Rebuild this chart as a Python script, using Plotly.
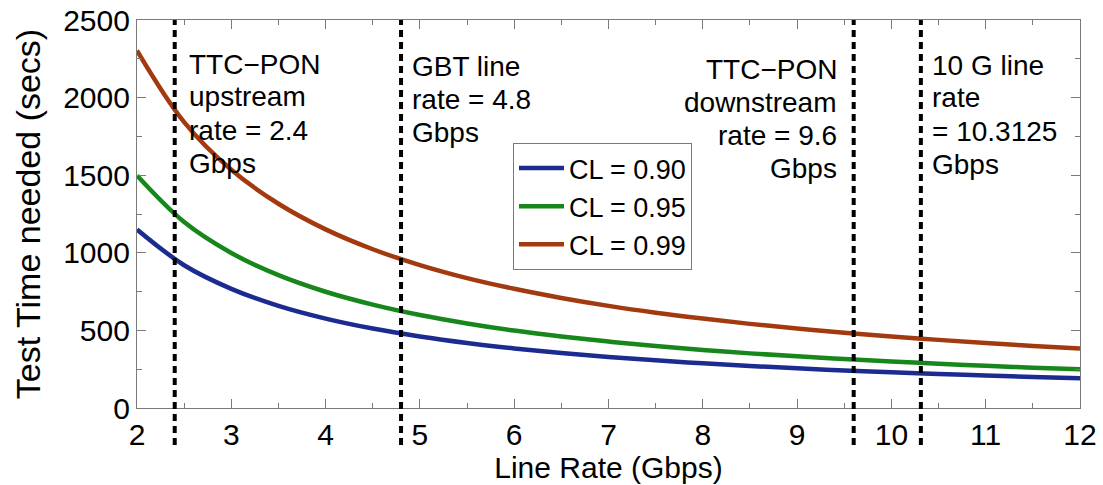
import plotly.graph_objects as go

# ---- data ----
line_rate = [2, 2.5, 3, 3.5, 4, 4.5, 5, 5.5, 6, 6.5, 7, 7.5, 8, 8.5, 9, 9.5, 10, 10.5, 11, 11.5, 12]
cl_090 = [1150, 920, 768, 658, 576, 512, 461, 419, 384, 354, 329, 307, 288, 271, 256, 242, 230, 219, 209, 200, 192]
cl_095 = [1498, 1198, 999, 856, 749, 666, 599, 545, 499, 461, 428, 399, 374, 352, 333, 315, 300, 285, 272, 260, 250]
cl_099 = [2303, 1842, 1535, 1316, 1151, 1023, 921, 837, 768, 709, 658, 614, 576, 542, 512, 485, 461, 439, 419, 400, 384]
series_names = ["CL = 0.90", "CL = 0.95", "CL = 0.99"]
series_colors = ["#1c2b90", "#17871b", "#a3390f"]

marker_rates = [2.4, 4.8, 9.6, 10.3125]
marker_labels = [
    ["TTC\u2212PON", "upstream", "rate = 2.4", "Gbps"],
    ["GBT line", "rate = 4.8", "Gbps"],
    ["TTC\u2212PON", "downstream", "rate = 9.6", "Gbps"],
    ["10 G line", "rate", "= 10.3125", "Gbps"],
]

x_ticks = list(range(2, 13))          # major ticks 2..12
y_ticks = [0, 500, 1000, 1500, 2000, 2500]
x_minor_step = 0.5
y_minor_step = 250

# ---- layout constants (pixels) ----
W, H = 1103, 485
ML, MR, MT, MB = 137, 23, 20, 77
PLOT_H = H - MT - MB
FONT = "Arial, Liberation Sans, Helvetica, sans-serif"
AXIS_COLOR = "#7a7a7a"

fig = go.Figure()
for vals, name, col in zip([cl_090, cl_095, cl_099], series_names, series_colors):
    fig.add_trace(go.Scatter(x=line_rate, y=vals, name=name, mode="lines",
                             line=dict(color=col, width=4.5, shape="spline")))

# dashed vertical markers (extend below the axis like the original)
for r in marker_rates:
    fig.add_shape(type="line", xref="x", yref="paper", x0=r, x1=r,
                  y0=-37 / PLOT_H, y1=1,
                  line=dict(color="black", width=4, dash="7px,5px"), layer="above")

# annotation text, one line at a time
ann_cfg = [  # (align side, xshift, first baseline px)
    ("left", 12, 74),
    ("left", 9, 76),
    ("right", -15, 79),
    ("left", 9, 75),
]
LINE_GAP = 33
for r, lines, (side, xs, b0) in zip(marker_rates, marker_labels, ann_cfg):
    for i, t in enumerate(lines):
        center_px = b0 + i * LINE_GAP - 10
        fig.add_annotation(x=r, xref="x", y=(H - MB - center_px) / PLOT_H, yref="paper",
                           text=t, showarrow=False, xanchor=side, yanchor="middle",
                           xshift=xs, align=side,
                           font=dict(family=FONT, size=28, color="black"))

axis_common = dict(
    showline=True, linecolor=AXIS_COLOR, linewidth=1.2, mirror="ticks",
    ticks="inside", ticklen=9, tickcolor=AXIS_COLOR, tickwidth=1.2,
    showgrid=False, zeroline=False,
    tickfont=dict(family=FONT, size=30, color="black"),
)
minor_common = dict(
    showline=True, linecolor=AXIS_COLOR, linewidth=1.2, mirror="ticks",
    ticks="inside", ticklen=5, tickcolor=AXIS_COLOR, tickwidth=1.2,
    showgrid=False, zeroline=False, showticklabels=False,
)

# empty trace so the minor-tick overlay axes are drawn
fig.add_trace(go.Scatter(x=[], y=[], xaxis="x2", yaxis="y2", showlegend=False, hoverinfo="skip"))

fig.update_layout(
    template="none",
    width=W, height=H,
    margin=dict(l=ML, r=MR, t=MT, b=MB, autoexpand=False),
    paper_bgcolor="white", plot_bgcolor="white",
    showlegend=True,
    xaxis=dict(range=[x_ticks[0], x_ticks[-1]], tickmode="linear",
               tick0=x_ticks[0], dtick=x_ticks[1] - x_ticks[0],
               title=dict(text="Line Rate (Gbps)", font=dict(family=FONT, size=30, color="black"), standoff=2),
               **axis_common),
    yaxis=dict(range=[y_ticks[0], y_ticks[-1]], tickmode="linear",
               tick0=y_ticks[0], dtick=y_ticks[1] - y_ticks[0],
               title=dict(text="Test Time needed (secs)", font=dict(family=FONT, size=34, color="black"), standoff=12),
               **axis_common),
    xaxis2=dict(range=[x_ticks[0], x_ticks[-1]], overlaying="x", anchor="y2", side="bottom",
                tickmode="linear", tick0=x_ticks[0], dtick=x_minor_step, **minor_common),
    yaxis2=dict(range=[y_ticks[0], y_ticks[-1]], overlaying="y", anchor="x2", side="left",
                tickmode="linear", tick0=y_ticks[0], dtick=y_minor_step, **minor_common),
    legend=dict(x=(513 - ML) / (W - ML - MR), y=(H - MB - 143) / PLOT_H,
                xanchor="left", yanchor="top",
                bgcolor="white", bordercolor=AXIS_COLOR, borderwidth=1,
                font=dict(family=FONT, size=27, color="black"),
                itemwidth=45, tracegroupgap=0),
)

fig.write_html("out.html", config={"displayModeBar": False},
               post_script="document.body.style.margin='0';document.body.style.padding='0';")
